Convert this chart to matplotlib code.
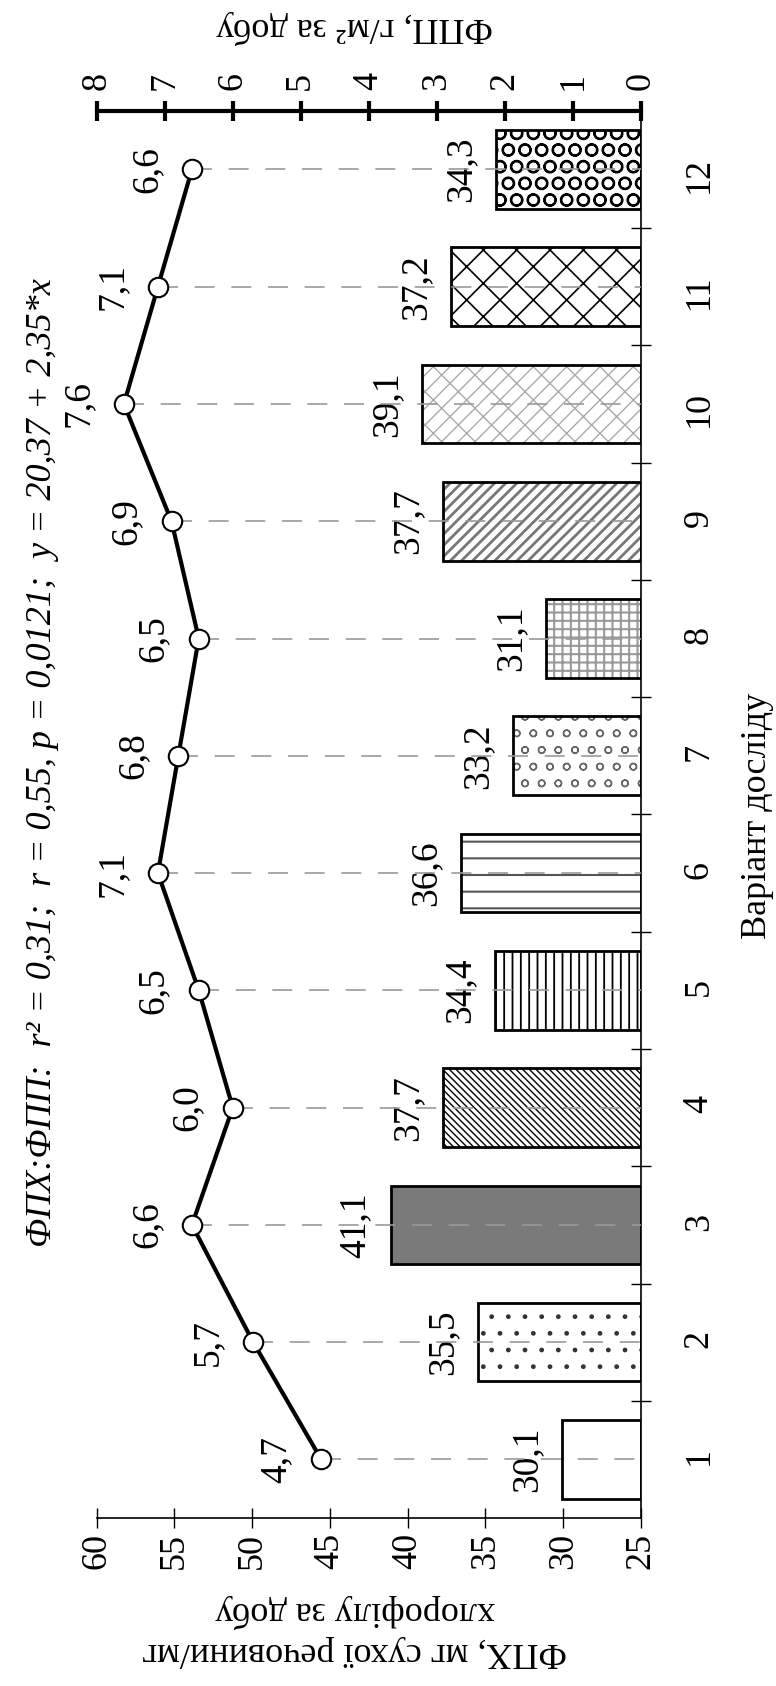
import numpy as np
import matplotlib.pyplot as plt

plt.rcParams['font.family'] = ['Liberation Serif', 'DejaVu Serif']
plt.rcParams['hatch.linewidth'] = 1.0

# дані
variants = list(range(1, 13))
fpx = [30.1, 35.5, 41.1, 37.7, 34.4, 36.6, 33.2, 31.1, 37.7, 39.1, 37.2, 34.3]
fpp = [4.7, 5.7, 6.6, 6.0, 6.5, 7.1, 6.8, 6.5, 6.9, 7.6, 7.1, 6.6]
fpx_ticks = [60, 55, 50, 45, 40, 35, 30, 25]
fpp_ticks = [8, 7, 6, 5, 4, 3, 2, 1, 0]

title = 'ФПХ:ФПП:  r² = 0,31;  r = 0,55, p = 0,0121;  y = 20,37 + 2,35*x'
xlabel_fpx = 'ФПХ, мг сухої речовини/мг\nхлорофілу за добу'
xlabel_fpp = 'ФПП, г/м² за добу'
ylabel = 'Варіант досліду'

# стилі стовпців
hatches = [None, '.', None, '\\\\\\\\\\', '||', '-', 'o', '++', '///', '//\\', 'x', 'O']
hatch_colors = ['black', '#333333', 'black', 'black', 'black', '#555555',
                '#666666', '#999999', '#777777', '#aaaaaa', 'black', 'black']
hatch_lw = [1, 1, 1, 1, 1.3, 1.5, 1, 1.5, 2, 1, 1.2, 1.5]
face_colors = ['white', 'white', '#7a7a7a'] + ['white'] * 9


def fmt(v):
    return f'{v:.1f}'.replace('.', ',')


fig = plt.figure(figsize=(7.76, 16.86), dpi=100)
ax = fig.add_axes([0.1246, 0.0996, 0.7014, 0.8347])
ax2 = ax.twiny()

base = 25
widths = [v - base for v in fpx]
bars = ax.barh(variants, widths, left=base, height=0.67, color=face_colors,
               linewidth=0, zorder=2)
for b, h, hc, hl in zip(bars, hatches, hatch_colors, hatch_lw):
    if h:
        b.set_hatch(h)
        b.set_edgecolor(hc)
        if hasattr(b, 'set_hatch_linewidth'):
            b.set_hatch_linewidth(hl)
ax.barh(variants, widths, left=base, height=0.67, fill=False,
        edgecolor='black', linewidth=2, zorder=3)

for y, v in zip(variants, fpx):
    ax.annotate(fmt(v), (v, y), xytext=(-35, 0), textcoords='offset pixels',
                rotation=90, ha='center', va='center', fontsize=27)

ax.set_xlim(60, 25)
ax.set_ylim(0.5, 12.5)
ax.set_xticks(fpx_ticks)
ax.tick_params(axis='x', direction='inout', length=14, width=1,
               labelsize=26, labelrotation=90, pad=4)

ax.yaxis.tick_right()
ax.set_yticks(np.arange(1.5, 12, 1))
ax.set_yticklabels([])
ax.set_yticks(variants, minor=True)
ax.set_yticklabels([str(v) for v in variants], minor=True)
ax.tick_params(axis='y', which='major', direction='inout', length=14,
               width=1, right=True, left=False)
ax.tick_params(axis='y', which='minor', length=0, labelsize=26,
               labelrotation=90, pad=30, right=True, left=False,
               labelright=True, labelleft=False)

ax.spines['top'].set_visible(False)
ax.spines['left'].set_visible(False)
ax.spines['bottom'].set_linewidth(1.2)
ax.spines['right'].set_linewidth(1.2)

# лінія ФПП
ax2.set_xlim(8, 0)
ax2.set_xticks(fpp_ticks)
ax2.tick_params(axis='x', direction='inout', length=14, width=3,
                labelsize=26, labelrotation=90, pad=8)
for s in ['left', 'right', 'bottom']:
    ax2.spines[s].set_visible(False)
ax2.spines['top'].set_linewidth(3)

ax2.hlines(variants, fpp, 0, colors='#999999', linewidth=1.2,
           linestyles=(0, (12, 10)), zorder=1)
ax2.plot(fpp, variants, color='black', lw=3, marker='o', ms=14,
         mfc='white', mec='black', mew=1.5, zorder=3, clip_on=False)
for y, v in zip(variants, fpp):
    ax2.annotate(fmt(v), (v, y), xytext=(-45, 0), textcoords='offset pixels',
                 rotation=90, ha='center', va='center', fontsize=27)

fig.text(43 / 776, 1 - 763 / 1686, title, rotation=90, style='italic',
         fontsize=26, ha='center', va='center')
fig.text(355 / 776, 1 - 1631 / 1686, xlabel_fpx, rotation=180, fontsize=26,
         ha='center', va='center', linespacing=1.3)
fig.text(355 / 776, 1 - 27 / 1686, xlabel_fpp, rotation=180, fontsize=26,
         ha='center', va='center')
fig.text(758 / 776, 1 - 816 / 1686, ylabel, rotation=90, fontsize=26,
         ha='center', va='center')

fig.savefig('out.png', dpi=100)
